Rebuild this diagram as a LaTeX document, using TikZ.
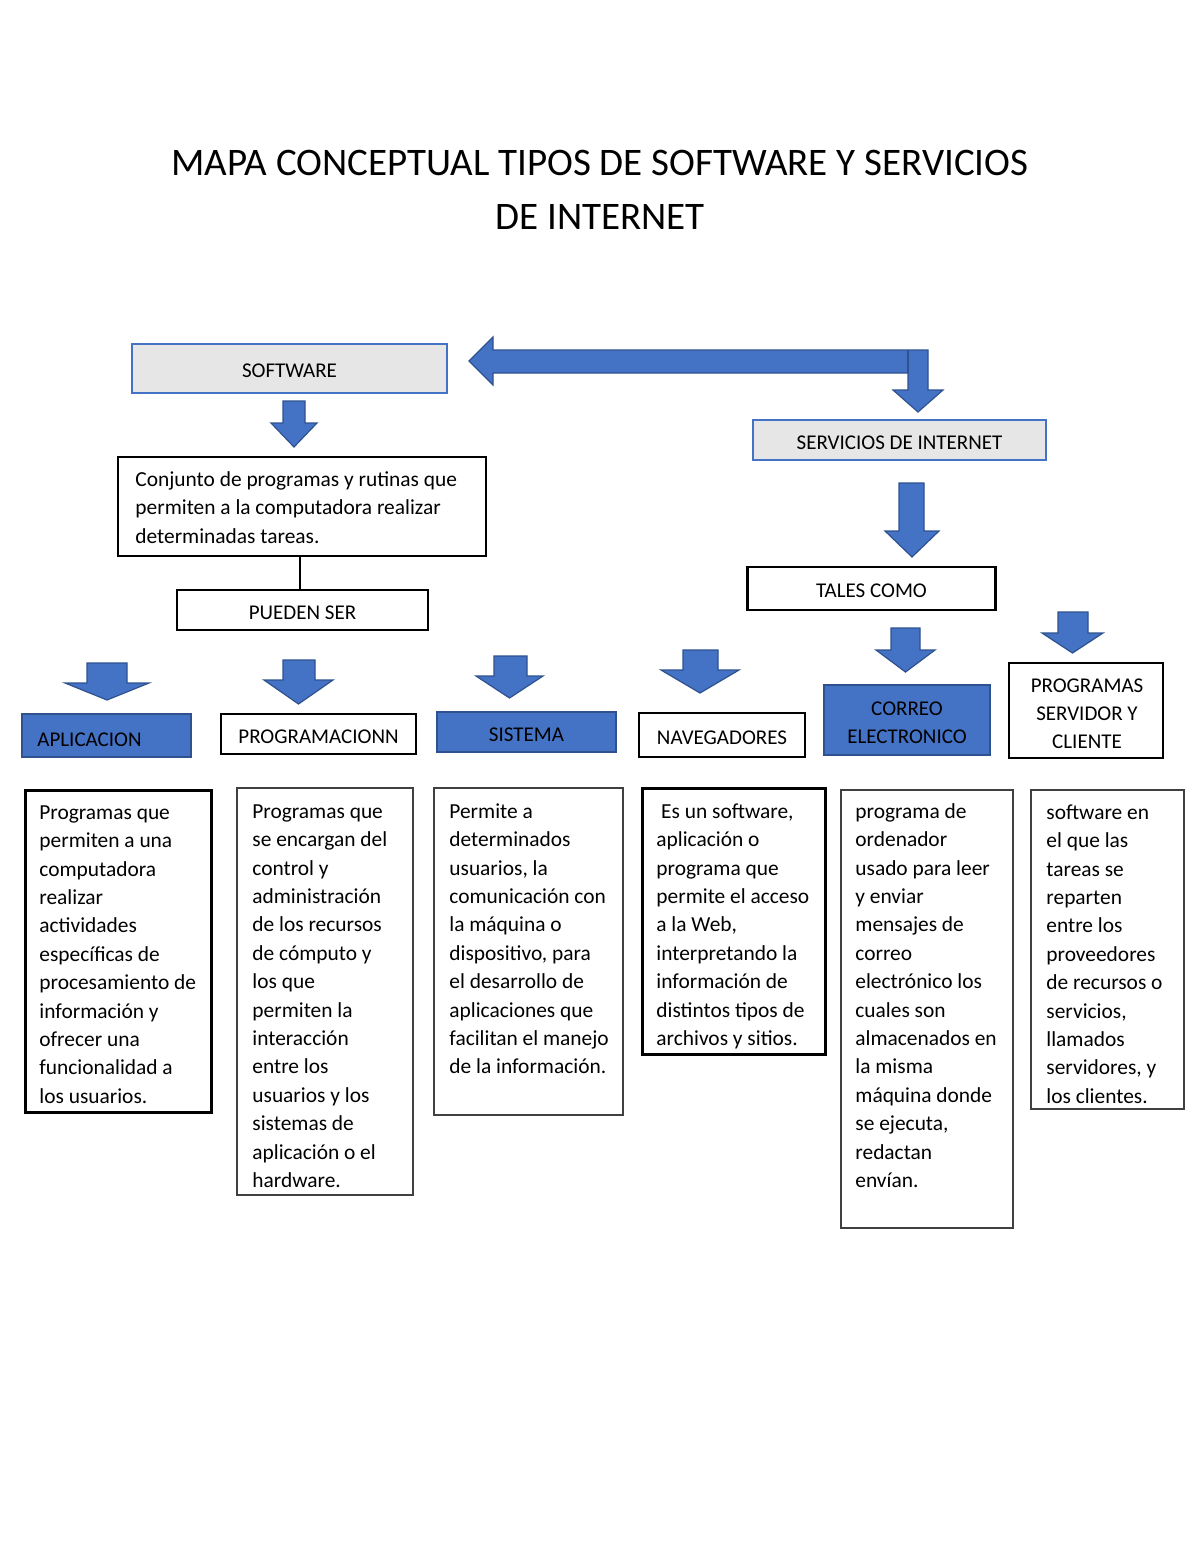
\documentclass[tikz,border=0pt]{standalone}
\usepackage{fontspec}
\setmainfont{Carlito}
\definecolor{boxgray}{HTML}{E7E6E6}
\definecolor{mblue}{HTML}{4472C4}
\definecolor{dblue}{HTML}{2F528F}
\definecolor{thinline}{HTML}{404040}
\newcommand\dnarrow[7]{\filldraw[blockarrow] (#1,#3) -- (#2,#3) -- (#2,#4) -- (#6,#4) -- ({(#5+#6)/2},#7) -- (#5,#4) -- (#1,#4) -- cycle;}
\tikzset{
  blockarrow/.style={fill=mblue, draw=dblue, line width=0.6pt, line join=miter},
  graybox/.style={draw=mblue, fill=boxgray, line width=1pt, inner sep=0pt},
  bluebox/.style={draw=dblue, fill=mblue, line width=0.8pt, inner sep=0pt},
  whitebox/.style={draw=black, fill=white, line width=1.4pt, inner sep=0pt},
  thickdesc/.style={draw=black, line width=1.5pt, inner sep=0pt},
  thindesc/.style={draw=thinline, line width=0.7pt, inner sep=0pt},
  lbl/.style={font=\fontsize{10.5}{14}\selectfont, text height=0.64em, text depth=0pt, inner sep=0pt, yshift=-1.4pt},
  mlbl/.style={font=\fontsize{10.5}{14}\selectfont, align=center, inner sep=0pt, yshift=-1pt},
  desc/.style={font=\fontsize{10.7}{14.2}\selectfont, align=left, anchor=north west, inner sep=0pt},
}
\begin{document}
\begin{tikzpicture}[x=0.5pt, y=-0.5pt]
\useasboundingbox (0,0) rectangle (1200,1553);
\fill[white] (0,0) rectangle (1200,1553);

% title
\node[font=\fontsize{19.5}{27}\selectfont, align=center] (title) at (600,190) {MAPA CONCEPTUAL TIPOS DE SOFTWARE Y SERVICIOS\\DE INTERNET};

% SOFTWARE
\node[graybox, minimum width=157.5pt, minimum height=24.5pt] (software) at (289.5,368) {};
\node[lbl] (softwaret) at (software.center) {SOFTWARE};

% big bent arrow
\filldraw[blockarrow] (469,361) -- (493,337) -- (493,350) -- (928,350) -- (928,390) -- (943,390) -- (918,412) -- (893,390) -- (908,390) -- (908,373) -- (493,373) -- (493,385) -- cycle;
\draw[dblue, line width=0.6pt] (908,350) -- (908,373);

% arrow below SOFTWARE
\dnarrow{283}{305}{401}{423}{271}{317}{447}

% Conjunto box
\node[whitebox, minimum width=184pt, minimum height=49.5pt] (conj) at (302,506.5) {};
\node[desc] (conjt) at (135,466) {\strut Conjunto de programas y rutinas que\\permiten a la computadora realizar\\determinadas tareas.};

% PUEDEN SER
\node[whitebox, minimum width=125.5pt, minimum height=20pt] (pueden) at (302.5,610) {};
\node[lbl] (puedent) at (pueden.center) {PUEDEN SER};
\draw[black, line width=0.8pt] (conj.south -| 300,0) -- (pueden.north -| 300,0);

% SERVICIOS DE INTERNET
\node[graybox, minimum width=146.5pt, minimum height=20pt] (servicios) at (899.5,440) {};
\node[lbl] (serviciost) at (servicios.center) {SERVICIOS DE INTERNET};
\dnarrow{899}{924}{483}{531}{885}{939}{557}

% TALES COMO
\node[whitebox, minimum width=124pt, minimum height=21.5pt] (tales) at (871.5,588.5) {};
\node[lbl] (talest) at (tales.center) {TALES COMO};

% row arrows
\dnarrow{87}{127}{663}{683}{65}{149}{700}
\dnarrow{283}{315}{660}{680}{264}{333}{704}
\dnarrow{494}{527}{656}{676}{476}{543}{698}
\dnarrow{683}{718}{650}{670}{661}{739}{693}
\dnarrow{891}{920}{628}{650}{876}{935}{672}
\dnarrow{1058}{1088}{612}{633}{1042}{1103}{653}

% category boxes
\node[bluebox, minimum width=84.5pt, minimum height=21.5pt] (aplic) at (106.5,735.5) {};
\node[lbl, anchor=west] (aplict) at (37,737) {APLICACION};
\node[whitebox, minimum width=97.5pt, minimum height=20pt] (progr) at (318.5,734) {};
\node[lbl] (progrt) at (progr.center) {PROGRAMACIONN};
\node[bluebox, minimum width=89.5pt, minimum height=20pt] (sist) at (526.5,732) {};
\node[lbl] (sistt) at (sist.center) {SISTEMA};
\node[whitebox, minimum width=83pt, minimum height=22pt] (nave) at (722,735) {};
\node[lbl] (navet) at (nave.center) {NAVEGADORES};
\node[bluebox, minimum width=83pt, minimum height=35pt] (correo) at (907,720) {};
\node[mlbl] (correot) at (907,721) {CORREO\\ELECTRONICO};
\node[whitebox, minimum width=77pt, minimum height=47.5pt] (progsc) at (1086,710.5) {};
\node[mlbl] (progsct) at (1087,712) {PROGRAMAS\\SERVIDOR Y\\CLIENTE};

% description boxes
\node[thickdesc, minimum width=93pt, minimum height=161pt] (d1) at (118,951) {};
\node[desc] (d1t) at (39,799) {\strut Programas que\\permiten a una\\computadora\\realizar\\actividades\\específicas de\\procesamiento de\\información y\\ofrecer una\\funcionalidad a\\los usuarios.};

\node[thindesc, minimum width=88pt, minimum height=203.5pt] (d2) at (325,991.5) {};
\node[desc] (d2t) at (252,798) {\strut Programas que\\se encargan del\\control y\\administración\\de los recursos\\de cómputo y\\los que\\permiten la\\interacción\\entre los\\usuarios y los\\sistemas de\\aplicación o el\\hardware.};

\node[thindesc, minimum width=94.5pt, minimum height=163.5pt] (d3) at (528.5,951.5) {};
\node[desc] (d3t) at (449,798) {\strut Permite a\\determinados\\usuarios, la\\comunicación con\\la máquina o\\dispositivo, para\\el desarrollo de\\aplicaciones que\\facilitan el manejo\\de la información.};

\node[thickdesc, minimum width=91.5pt, minimum height=133pt] (d4) at (733.5,921) {};
\node[desc] (d4t) at (656,798) {\strut\ Es un software,\\aplicación o\\programa que\\permite el acceso\\a la Web,\\interpretando la\\información de\\distintos tipos de\\archivos y sitios.};

\node[thindesc, minimum width=86pt, minimum height=219pt] (d5) at (927,1009) {};
\node[desc] (d5t) at (855,798) {\strut programa de\\ordenador\\usado para leer\\y enviar\\mensajes de\\correo\\electrónico los\\cuales son\\almacenados en\\la misma\\máquina donde\\se ejecuta,\\redactan\\envían.};

\node[thindesc, minimum width=76.5pt, minimum height=159.5pt] (d6) at (1107.5,949.5) {};
\node[desc] (d6t) at (1046,799) {\strut software en\\el que las\\tareas se\\reparten\\entre los\\proveedores\\de recursos o\\servicios,\\llamados\\servidores, y\\los clientes.};
\end{tikzpicture}
\end{document}
